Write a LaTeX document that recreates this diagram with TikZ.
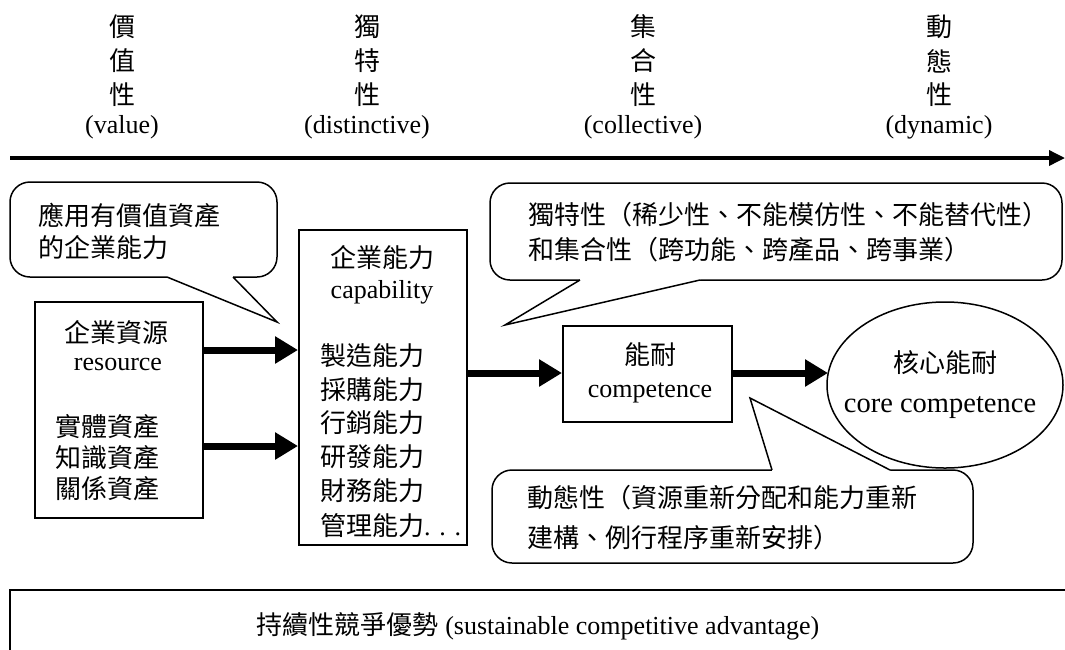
\documentclass[tikz,border=0pt]{standalone}
\usepackage{fontspec}
\setmainfont{Liberation Serif}
\newfontfamily\cjk{Noto Sans CJK TC}
\usetikzlibrary{arrows.meta}
\begin{document}
\begin{tikzpicture}[x=1pt,y=-1pt,
  en/.style={inner sep=0pt, font=\fontsize{26}{30}\selectfont},
  zh/.style={inner sep=0pt, font=\cjk\fontsize{26}{30}\selectfont},
  boxA/.style={draw, line width=2pt, inner sep=0pt},
  bigarrow/.style={line width=7pt, -{Triangle[length=23pt,width=26pt]}},
  cline/.style={line width=1.5pt},
]
\useasboundingbox (0,0) rectangle (1065,649);
\clip (0,0) rectangle (1065,649);

% ---- top labels
\foreach \nm/\x/\a/\b/\e in {v/122/價/值/(value), d/367/獨/特/(distinctive), c/643/集/合/(collective), y/939/動/態/(dynamic)}{
  \node[zh] (\nm1) at (\x,27) {\a};
  \node[zh] (\nm2) at (\x,61) {\b};
  \node[zh] (\nm3) at (\x,95) {性};
  \node[en] (\nm4) at (\x,127) {\e};
}
\coordinate (axL) at (10,158);
\coordinate (axR) at (1065,158);
\draw[line width=3.5pt, -{Triangle[length=16pt,width=15pt]}] (axL) -- (axR);

% ---- callout 1
\draw[cline, fill=white, rounded corners=20] (10,182) rectangle (277,277);
\fill[white] (167,275.5) -- (233,275.5) -- (233,277) -- (277,322) -- (167,277) -- cycle;
\draw[cline] (167,277) -- (277,322) -- (233,277);
\node[zh, anchor=west] (c1a) at (38,215) {應用有價值資產};
\node[zh, anchor=west] (c1b) at (38,248) {的企業能力};

% ---- callout 2
\draw[cline, fill=white, rounded corners=20] (490,183) rectangle (1062,280);
\fill[white] (580,278.5) -- (700,278.5) -- (700,280) -- (505,325) -- (580,280) -- cycle;
\draw[cline] (580,280) -- (505,325) -- (700,280);
\node[zh, anchor=west] (c2a) at (528,215) {獨特性（稀少性、不能模仿性、不能替代性）};
\node[zh, anchor=west] (c2b) at (528,250) {和集合性（跨功能、跨產品、跨事業）};

% ---- callout 3
\draw[cline, fill=white, rounded corners=20] (492,470) rectangle (973,563);
\fill[white] (772,471.5) -- (890,471.5) -- (890,470) -- (750,398) -- (772,470) -- cycle;
\draw[cline] (772,470) -- (750,398) -- (890,470);
\node[zh, anchor=west] (c3a) at (527,498) {動態性（資源重新分配和能力重新};
\node[zh, anchor=west] (c3b) at (527,538) {建構、例行程序重新安排）};

% ---- resource box
\node[boxA, minimum width=168pt, minimum height=216pt] (res) at (119,410) {};
\node[zh] (res1) at (116,332) {企業資源};
\node[en] (res2) at (118,364) {resource};
\node[zh, anchor=west] (res3) at (55,427) {實體資產};
\node[zh, anchor=west] (res4) at (55,458) {知識資產};
\node[zh, anchor=west] (res5) at (55,489) {關係資產};

% ---- capability box
\node[boxA, minimum width=168pt, minimum height=315pt] (cap) at (383,387.5) {};
\node[zh] (cap1) at (382,258) {企業能力};
\node[en] (cap2) at (382,292) {capability};
\foreach \t/\yy [count=\i] in {製造能力/356, 採購能力/390, 行銷能力/423, 研發能力/457, 財務能力/491}{
  \node[zh, anchor=west] (capl\i) at (320,\yy) {\t};
}
\node[en, anchor=west] (capl6) at (320,526) {{\cjk 管理能力}. . .};

% ---- competence box
\node[boxA, minimum width=169pt, minimum height=96pt] (comp) at (647.5,374) {};
\node[zh] (comp1) at (650,355) {能耐};
\node[en] (comp2) at (650,393) {competence};

% ---- core ellipse
\draw[cline] (945,385) ellipse [x radius=118, y radius=83];
\coordinate (core) at (945,385);
\coordinate (coreW) at (828,373);
\node[zh] (core1) at (945,363) {核心能耐};
\node[en, font=\fontsize{28.5}{32}\selectfont] (core2) at (940,408) {core competence};

% ---- arrows
\coordinate (r1) at (0,350);
\coordinate (r2) at (0,446);
\draw[bigarrow] (res.east |- r1) -- (cap.west |- r1);
\draw[bigarrow] (res.east |- r2) -- (cap.west |- r2);
\coordinate (r3) at (0,373);
\draw[bigarrow] (cap.east |- r3) -- (comp.west |- r3);
\draw[bigarrow] (comp.east |- r3) -- (coreW);

% ---- bottom box
\draw[line width=2pt] (1080,590) -- (10,590) -- (10,660);
\node[en] (sca) at (538,626) {{\cjk 持續性競爭優勢} (sustainable competitive advantage)};
\end{tikzpicture}
\end{document}
